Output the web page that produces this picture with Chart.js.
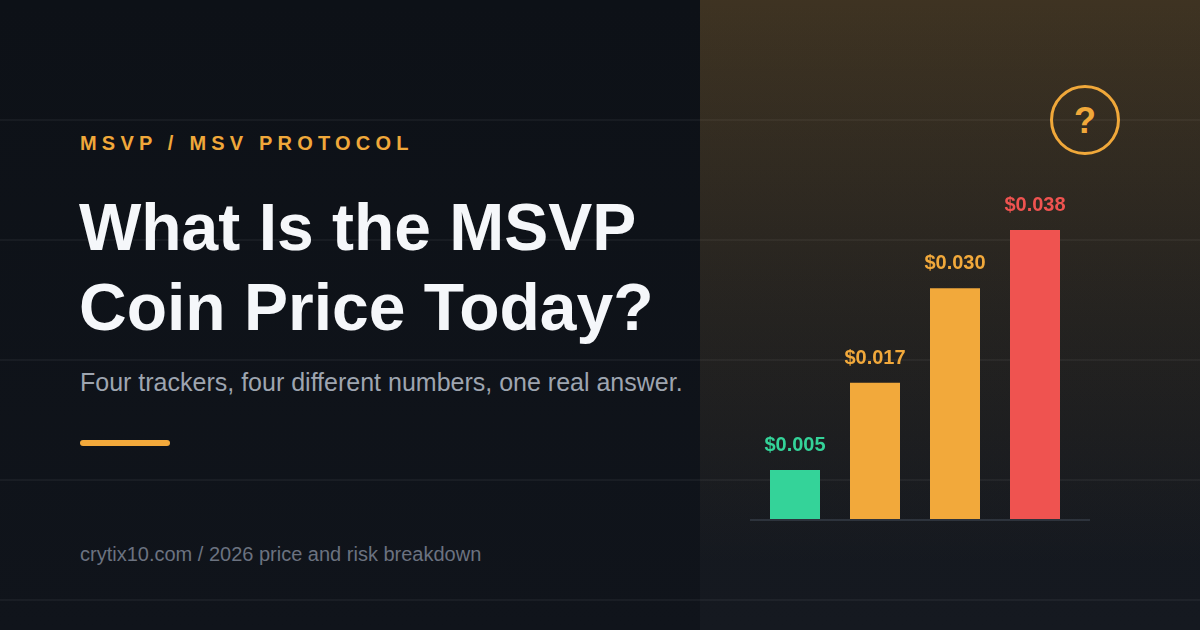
<!DOCTYPE html>
<html>
<head>
<meta charset="utf-8">
<script src="https://cdn.jsdelivr.net/npm/chart.js@4.4.1/dist/chart.umd.min.js"></script>
<style>
    html, body {
        margin: 0;
        padding: 0;
        width: 1200px;
        height: 630px;
        overflow: hidden;
        background: #0d1117;
        font-family: "Liberation Sans", Arial, sans-serif;
    }
    .page {
        position: relative;
        width: 1200px;
        height: 630px;
        background: linear-gradient(180deg, #0d1117 0%, #10141b 100%);
    }
    .grid {
        position: absolute;
        left: 0;
        top: 119px;
        width: 1200px;
        height: 511px;
        background-image: linear-gradient(180deg, rgba(255,255,255,0.045) 0, rgba(255,255,255,0.045) 2px, transparent 2px);
        background-size: 100% 120px;
        background-position: 0 0;
    }
    .panel {
        position: absolute;
        left: 700px;
        top: 0;
        width: 500px;
        height: 630px;
        background:
            linear-gradient(180deg, rgba(240,168,58,0.20) 0%, rgba(240,168,58,0.08) 50%, rgba(240,168,58,0) 90%),
            rgba(255,255,255,0.025);
    }
    .eyebrow {
        position: absolute;
        left: 80px;
        top: 133px;
        font-size: 20px;
        line-height: 20px;
        font-weight: bold;
        letter-spacing: 5.2px;
        color: #f0a83a;
        white-space: nowrap;
    }
    .title {
        position: absolute;
        left: 79px;
        top: 187px;
        font-size: 66px;
        line-height: 80px;
        font-weight: bold;
        color: #f5f7fa;
        white-space: nowrap;
    }
    .subtitle {
        position: absolute;
        left: 80px;
        top: 370px;
        font-size: 25px;
        line-height: 25px;
        color: #9ea5b0;
        white-space: nowrap;
    }
    .accent {
        position: absolute;
        left: 80px;
        top: 440px;
        width: 90px;
        height: 6px;
        border-radius: 3px;
        background: #f2a93b;
    }
    .footer {
        position: absolute;
        left: 80px;
        top: 544px;
        font-size: 20px;
        line-height: 20px;
        color: #6b7280;
        white-space: nowrap;
    }
    .qmark {
        position: absolute;
        left: 1050px;
        top: 85px;
        width: 64px;
        height: 64px;
        border: 3px solid #f0a83a;
        border-radius: 50%;
        color: #f0a83a;
        font-size: 36px;
        font-weight: bold;
        line-height: 66px;
        text-align: center;
    }
    .chart-box {
        position: absolute;
        left: 750px;
        top: 150px;
        width: 340px;
        height: 372px;
    }
</style>
</head>
<body>
<div class="page">
    <div class="grid"></div>
    <div class="panel"></div>
    <div class="eyebrow">MSVP / MSV PROTOCOL</div>
    <div class="title">What Is the MSVP<br>Coin Price Today?</div>
    <div class="subtitle">Four trackers, four different numbers, one real answer.</div>
    <div class="accent"></div>
    <div class="footer">crytix10.com / 2026 price and risk breakdown</div>
    <div class="qmark">?</div>
    <div class="chart-box"><canvas id="priceChart"></canvas></div>
</div>

<script>
// =====================
//  DATA
// =====================
const TRACKERS = ["Tracker 1", "Tracker 2", "Tracker 3", "Tracker 4"];
const PRICES = [0.005, 0.017, 0.030, 0.038];
const PRICE_LABELS = ["$0.005", "$0.017", "$0.030", "$0.038"];

// value axis range (the bars in the picture sit on a slightly negative floor)
const Y_MIN = -0.00173;
const Y_MAX = 0.0490;

const BAR_COLORS = ["#34d399", "#f2a93b", "#f2a93b", "#ef5350"];


// =====================
//  PLUGINS
// =====================
const baselinePlugin = {
    id: "baseline",
    beforeDatasetsDraw(chart) {
        const { ctx, chartArea } = chart;
        ctx.save();
        ctx.strokeStyle = "#2d333c";
        ctx.lineWidth = 2;
        ctx.beginPath();
        ctx.moveTo(0, chartArea.bottom + 1);
        ctx.lineTo(chart.width, chartArea.bottom + 1);
        ctx.stroke();
        ctx.restore();
    }
};

const valueLabelPlugin = {
    id: "valueLabels",
    afterDatasetsDraw(chart) {
        const { ctx } = chart;
        const meta = chart.getDatasetMeta(0);
        ctx.save();
        ctx.font = "bold 20px 'Liberation Sans', Arial, sans-serif";
        ctx.textAlign = "center";
        ctx.textBaseline = "alphabetic";
        meta.data.forEach((bar, i) => {
            ctx.fillStyle = BAR_COLORS[i];
            ctx.fillText(PRICE_LABELS[i], bar.x, bar.y - 19);
        });
        ctx.restore();
    }
};


// =====================
//  BAR CHART
// =====================
const priceCtx = document.getElementById("priceChart").getContext("2d");

let priceChart = new Chart(priceCtx, {
    type: "bar",
    data: {
        labels: TRACKERS,
        datasets: [
            {
                label: "Price",
                data: PRICES,
                base: Y_MIN,
                backgroundColor: BAR_COLORS,
                borderWidth: 0,
                categoryPercentage: 1.0,
                barPercentage: 0.625
            }
        ]
    },
    options: {
        responsive: true,
        maintainAspectRatio: false,
        animation: false,
        layout: {
            padding: { left: 5, right: 15, top: 0, bottom: 3 }
        },
        plugins: {
            legend: { display: false },
            tooltip: { enabled: false }
        },
        scales: {
            x: { display: false },
            y: { display: false, min: Y_MIN, max: Y_MAX }
        }
    },
    plugins: [baselinePlugin, valueLabelPlugin]
});
</script>
</body>
</html>
